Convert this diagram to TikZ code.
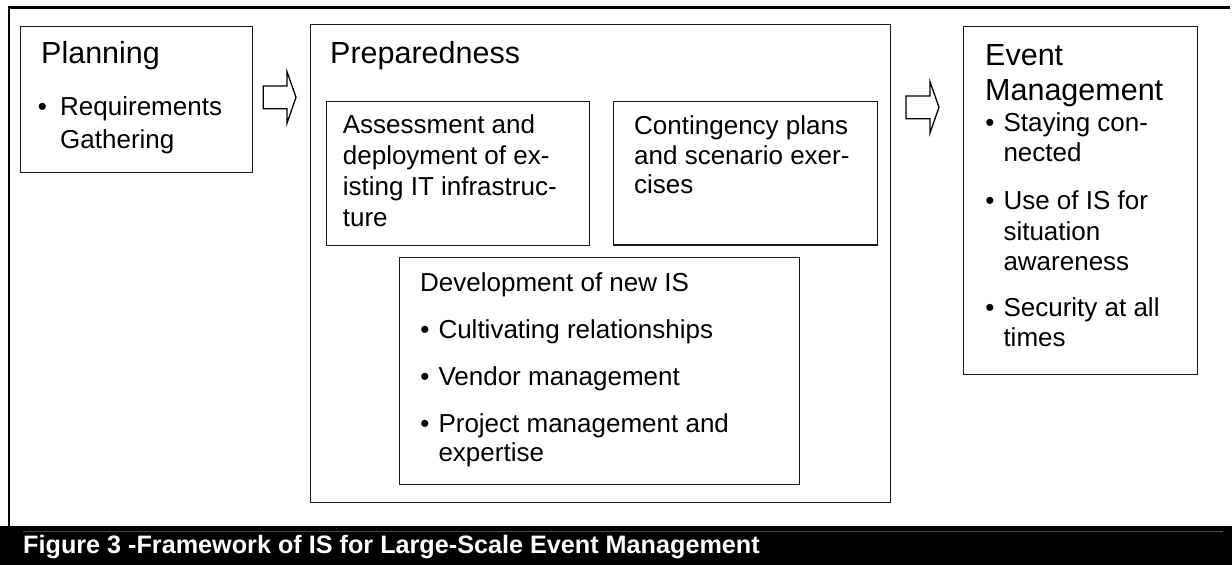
\documentclass[tikz,border=0pt]{standalone}
\usepackage{fontspec}
\setmainfont{Liberation Sans}
\newcommand\ttlf{\fontsize{30.5}{36}\selectfont}
\newcommand\bdyf{\fontsize{26}{30}\selectfont}
\newcommand\capf{\fontsize{25.2}{28}\selectfont\bfseries}
\tikzset{
  box/.style={draw=black!90, line width=1.4pt, anchor=north west, inner sep=0pt},
  ttl/.style={anchor=base west, inner sep=0pt, font=\ttlf},
  txt/.style={anchor=base west, inner sep=0pt, font=\bdyf},
  bul/.style={anchor=base, inner sep=0pt, font=\bdyf},
  blockarrow/.style={draw=black, line width=1.3pt, fill=white, line join=miter}
}
\begin{document}
\begin{tikzpicture}[x=1pt,y=-1pt]
\useasboundingbox (0,0) rectangle (1232,565);
% outer frame
\draw[line width=2.4pt] (9,526) -- (9,7.3) -- (1230,7.3);
% caption bar
\fill[black] (0,526) rectangle (1232,565);
\draw[black!70, line width=1pt] (23,531) -- (1223,531);
\node[anchor=base west, inner sep=0pt, text=white, font=\capf] (cap) at (23,553.5) {Figure 3 -Framework of IS for Large-Scale Event Management};

% Planning
\node[box, minimum width=232pt, minimum height=146pt] (plan) at (20,26) {};
\node[ttl] (planT) at (41,63.5) {Planning};
\node[bul] (planB) at (42.5,115) {•};
\node[txt] (planL1) at (60,115) {Requirements};
\node[txt] (planL2) at (60,148) {Gathering};

% arrow 1
\draw[blockarrow] (263.3,86) -- (287,86) -- (287,71.7) -- (296,97.3) -- (287,123.3) -- (287,108.7) -- (263.3,108.7) -- cycle;

% Preparedness
\node[box, minimum width=580pt, minimum height=478pt] (prep) at (310,24) {};
\node[ttl] (prepT) at (330,63.3) {Preparedness};

\node[box, minimum width=263pt, minimum height=144pt] (assess) at (326,100.5) {};
\node[txt] (asL1) at (342.7,133.3) {Assessment and};
\node[txt] (asL2) at (342.7,164.5) {deployment of ex-};
\node[txt] (asL3) at (342.7,195) {isting IT infrastruc-};
\node[txt] (asL4) at (342.7,226) {ture};

\node[box, minimum width=263.7pt, minimum height=143.5pt] (cont) at (613,100.7) {};
\node[txt] (coL1) at (634,134) {Contingency plans};
\node[txt] (coL2) at (634,164) {and scenario exer-};
\node[txt] (coL3) at (634,193.5) {cises};

\node[box, minimum width=400pt, minimum height=227.3pt] (dev) at (399,256.7) {};
\node[txt] (dvT) at (420,291.7) {Development of new IS};
\node[bul] (dvB1) at (425,338.3) {•};
\node[txt] (dvL1) at (438.3,338.3) {Cultivating relationships};
\node[bul] (dvB2) at (425,385) {•};
\node[txt] (dvL2) at (438.3,385) {Vendor management};
\node[bul] (dvB3) at (425,432) {•};
\node[txt] (dvL3) at (438.3,432) {Project management and};
\node[txt] (dvL4) at (438.3,461.7) {expertise};

% arrow 2
\draw[blockarrow] (906,96) -- (930,96) -- (930,81.7) -- (939,107.3) -- (930,133) -- (930,118.7) -- (906,118.7) -- cycle;

% Event Management
\node[box, minimum width=234pt, minimum height=348.3pt] (evt) at (963,25.7) {};
\node[ttl] (evT1) at (985,65.7) {Event};
\node[ttl] (evT2) at (985,100) {Management};
\node[bul] (evB1) at (990,131.7) {•};
\node[txt] (evL1) at (1003.3,131.7) {Staying con-};
\node[txt] (evL2) at (1003.3,161.7) {nected};
\node[bul] (evB2) at (990,209) {•};
\node[txt] (evL3) at (1003.3,209) {Use of IS for};
\node[txt] (evL4) at (1003.3,240) {situation};
\node[txt] (evL5) at (1003.3,270) {awareness};
\node[bul] (evB3) at (990,316.7) {•};
\node[txt] (evL6) at (1003.3,316.7) {Security at all};
\node[txt] (evL7) at (1003.3,346.7) {times};
\end{tikzpicture}
\end{document}
